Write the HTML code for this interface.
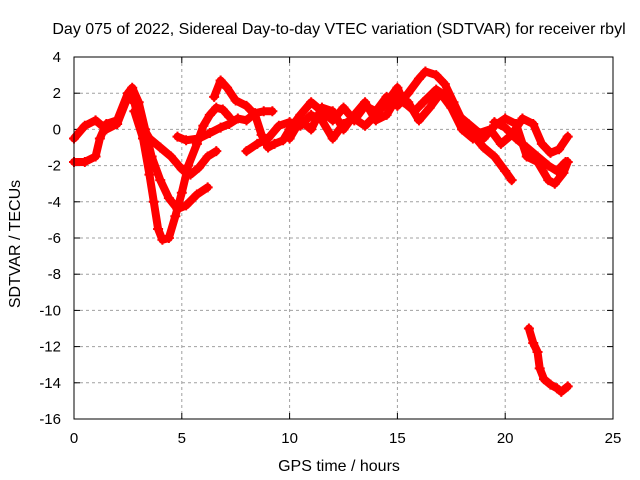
<!DOCTYPE html>
<html><head><meta charset="utf-8"><style>
body{margin:0;background:#fff;}
svg{display:block;font-family:"Liberation Sans",sans-serif;}
</style></head><body>
<svg id="chart" width="640" height="480">
<rect x="0" y="0" width="640" height="480" fill="#fff"/>
<g id="grid"></g>
<g id="ticks"></g>
<g id="series"></g>
<rect x="74" y="57" width="539" height="362" fill="none" stroke="#000" stroke-width="1"/>
<text x="339" y="34" text-anchor="middle" font-size="16">Day 075 of 2022, Sidereal Day-to-day VTEC variation (SDTVAR) for receiver rbyl</text>
<text x="339" y="471" text-anchor="middle" font-size="16">GPS time / hours</text>
<text x="20" y="244" text-anchor="middle" font-size="16" transform="rotate(-90 20 244)">SDTVAR / TECUs</text>
</svg>
<script>
const xTicks=[0,5,10,15,20,25];
const yTicks=[4,2,0,-2,-4,-6,-8,-10,-12,-14,-16];
const t1=[[0,-1.8],[0.5,-1.8],[1,-1.5],[1.2,-0.5],[1.5,0.3],[2,0.5],[2.5,2.0],[2.7,2.3],[3,1.5],[3.3,0],[3.6,-1.5],[4,-2.8],[4.4,-3.8],[4.8,-4.4],[5.2,-4.2],[5.7,-3.6],[6.2,-3.2]];
const t2=[[2.8,1],[3.2,-0.5],[3.5,-2.5],[3.7,-4],[3.9,-5.5],[4.1,-6.1],[4.4,-6],[4.7,-4.8],[5,-3.5],[5.3,-2],[5.7,-0.8],[6,0.2],[6.3,0.8],[6.6,1.2],[6.9,1.1],[7.2,0.7]];
const t3=[[0,-0.5],[0.5,0.2],[1,0.5],[1.5,0],[2,0.3],[2.5,1.8],[2.8,1.5],[3,0.5],[3.5,-0.5],[4,-1],[4.5,-1.5],[5,-2.2],[5.4,-2.5],[5.8,-2.1],[6.2,-1.5],[6.6,-1.2]];
const t4=[[4.8,-0.4],[5.2,-0.6],[5.8,-0.5],[6.3,-0.2],[6.8,0.1],[7.2,0.3],[7.6,0.6],[8,0.5],[8.4,0.9],[8.8,1.0],[9.2,1.0]];
const t5=[[6.5,1.8],[6.8,2.7],[7.1,2.3],[7.5,1.6],[8,1.3],[8.4,0.8],[8.7,-0.3],[9,-1.0],[9.3,-0.8],[9.7,-0.6],[10,0],[10.5,0.8],[11,1.5],[11.5,1.0],[12,0.5],[12.5,1.2],[13,0.5],[13.5,1.3],[14,1.0],[14.5,1.8],[15,1.3],[15.5,2.0],[16,2.8],[16.3,3.2],[16.8,3.0],[17.2,2.5],[17.6,1.5],[18,0.5],[18.5,-0.3],[19,-1],[19.5,-1.5],[20,-2.3],[20.3,-2.8]];
const t6=[[8,-1.2],[8.5,-0.8],[9,-0.5],[9.5,0.2],[10,0.4],[10.5,0.2],[11,0.8],[11.5,0.5],[12,-0.5],[12.5,0.3],[13,0.6],[13.5,0.2],[14,0.8],[14.5,1.5],[15,2.3],[15.3,1.5],[15.8,1.0],[16.2,1.5],[16.8,2.2],[17.3,1.8],[17.8,0.8],[18.3,0.3],[18.8,-0.2],[19.3,0],[19.8,-0.8],[20.3,-0.3],[20.8,0.6],[21.3,0.3],[21.7,-0.8],[22.1,-1.3],[22.5,-1.1],[22.9,-0.4]];
const t7=[[10,-0.5],[10.5,0.5],[11,0],[11.5,1.2],[12,1.0],[12.5,0],[13,0.8],[13.5,1.5],[14,0.5],[14.5,0.8],[15,1.8],[15.5,1.5],[16,0.5],[16.5,1.2],[17,2.0],[17.5,1.2],[18,0],[18.5,-0.5],[19,-0.5],[19.5,0.2],[20,0.6],[20.5,0.3],[21,-1.5],[21.5,-1.8],[22,-2.8],[22.3,-3],[22.7,-2.4],[22.9,-1.8]];
const t8=[[19.5,0.4],[20,0.1],[20.5,-0.5],[21,-1],[21.5,-1.5],[22,-2.0],[22.4,-2.3],[22.8,-1.8]];
const t9=[[21.1,-11],[21.3,-11.8],[21.5,-12.3],[21.6,-13.2],[21.8,-13.8],[22.1,-14.1],[22.4,-14.3],[22.6,-14.5],[22.9,-14.2]];
const tracks=[t1,t2,t3,t4,t5,t6,t7,t8,t9];
const X0=74,X1=613,Y0=57,Y1=419,xMin=0,xMax=25,yMin=-16,yMax=4;
const sx=v=>X0+(v-xMin)/(xMax-xMin)*(X1-X0);
const sy=v=>Y1-(v-yMin)/(yMax-yMin)*(Y1-Y0);
const NS="http://www.w3.org/2000/svg";
function mk(tag,attrs,parent){const e=document.createElementNS(NS,tag);for(const k in attrs)e.setAttribute(k,attrs[k]);parent.appendChild(e);return e;}
const grid=document.getElementById('grid'),ticks=document.getElementById('ticks'),series=document.getElementById('series');
xTicks.forEach(v=>{const x=sx(v);
 if(v>xMin&&v<xMax){const g=mk('line',{x1:x,x2:x,y1:Y0,y2:Y1,stroke:'#a0a0a0','stroke-dasharray':'3,3'},grid);
 
 }
 mk('line',{x1:x,x2:x,y1:Y1,y2:Y1-6,stroke:'#000'},ticks);
 mk('line',{x1:x,x2:x,y1:Y0,y2:Y0+6,stroke:'#000'},ticks);
 const t=mk('text',{x:x,y:Y1+24,'text-anchor':'middle','font-size':'15'},ticks);t.textContent=v;
 
 });
yTicks.forEach(v=>{const y=sy(v);
 if(v>yMin&&v<yMax){const g=mk('line',{x1:X0,x2:X1,y1:y,y2:y,stroke:'#a0a0a0','stroke-dasharray':'3,3'},grid);
 
 }
 mk('line',{x1:X0,x2:X0+6,y1:y,y2:y,stroke:'#000'},ticks);
 mk('line',{x1:X1,x2:X1-6,y1:y,y2:y,stroke:'#000'},ticks);
 const t=mk('text',{x:X0-13,y:y+5,'text-anchor':'end','font-size':'15'},ticks);t.textContent=v;
 
 });
tracks.forEach((tr,i)=>{
 const p=mk('polyline',{points:tr.map(d=>sx(d[0])+','+sy(d[1])).join(' '),fill:'none',stroke:'#ff0000','stroke-width':'8','stroke-linejoin':'round','stroke-linecap':'round'},series);
 
 
 tr.forEach(d=>{const x=sx(d[0]),y=sy(d[1]);
  const m=mk('path',{d:`M${x-5},${y}H${x+5}M${x},${y-5}V${y+5}`,stroke:'#ff0000','stroke-width':'2'},series);
  
  });
});
</script>
</body></html>
